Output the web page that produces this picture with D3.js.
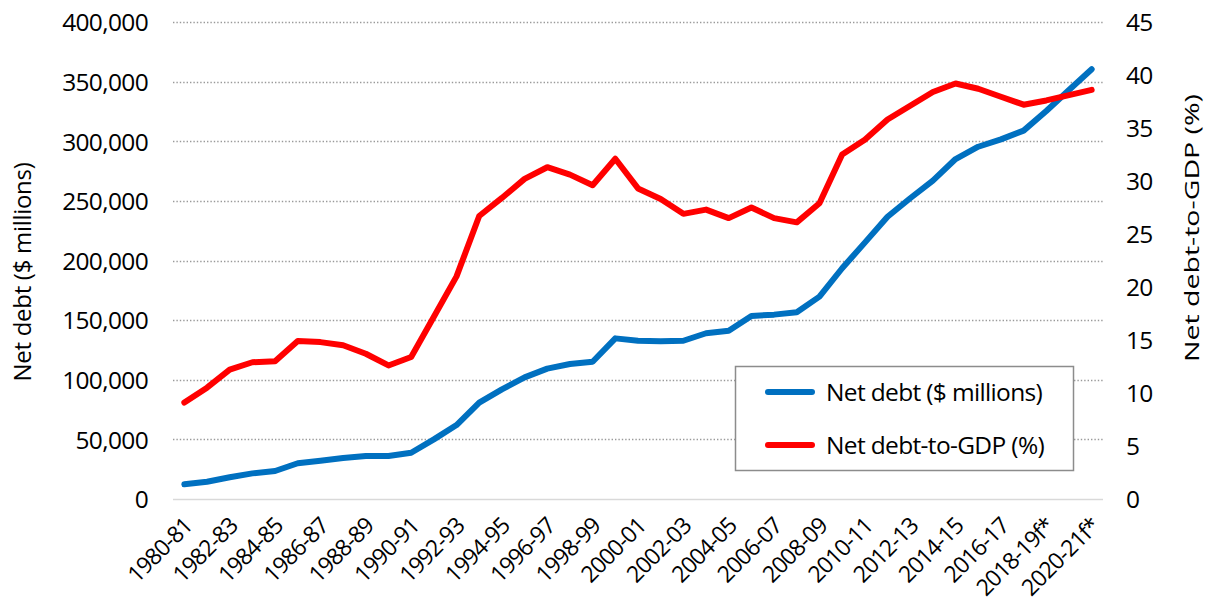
<!DOCTYPE html>
<html>
<head>
<meta charset="utf-8">
<script src="https://cdn.jsdelivr.net/npm/d3@7"></script>
<style>
  html, body { margin: 0; padding: 0; background: #fff; }
  svg text { font-family: "Open Sans", "Noto Sans", sans-serif; fill: #000; }
</style>
</head>
<body>
<svg id="chart" width="1216" height="607"></svg>
<script>
const categories = [
  "1980-81","1981-82","1982-83","1983-84","1984-85","1985-86","1986-87","1987-88","1988-89","1989-90",
  "1990-91","1991-92","1992-93","1993-94","1994-95","1995-96","1996-97","1997-98","1998-99","1999-00",
  "2000-01","2001-02","2002-03","2003-04","2004-05","2005-06","2006-07","2007-08","2008-09","2009-10",
  "2010-11","2011-12","2012-13","2013-14","2014-15","2015-16","2016-17","2017-18","2018-19f*","2019-20f*",
  "2020-21f*"
];
const netDebt = [
  12300, 14500, 18200, 21500, 23500, 30000, 32100, 34400, 36000, 36000,
  38800, 50000, 62000, 80800, 92000, 102000, 109300, 113200, 115100, 134700,
  132700, 132200, 132700, 139000, 141100, 153500, 154600, 156600, 169700, 193500,
  215000, 236700, 252200, 267000, 285100, 295400, 301600, 308900, 325400, 343000,
  360400
];
const debtToGDP = [
  9.1, 10.5, 12.2, 12.9, 13.0, 14.9, 14.8, 14.5, 13.7, 12.6,
  13.4, 17.2, 21.0, 26.7, 28.4, 30.2, 31.3, 30.6, 29.6, 32.1,
  29.3, 28.3, 26.9, 27.3, 26.5, 27.5, 26.5, 26.1, 27.9, 32.5,
  33.9, 35.8, 37.1, 38.4, 39.2, 38.7, 37.95, 37.2, 37.6, 38.1,
  38.6
];
const leftTicks = [0, 50000, 100000, 150000, 200000, 250000, 300000, 350000, 400000];
const rightTicks = [0, 5, 10, 15, 20, 25, 30, 35, 40, 45];
const xLabels = categories.filter((d, i) => i % 2 === 0);
const seriesNames = ["Net debt ($ millions)", "Net debt-to-GDP (%)"];
const seriesColors = ["#0070C0", "#FF0000"];

(function () {
const svg = d3.select("#chart");
const pLeft = 173, pRight = 1103, pTop = 22, pBottom = 499;
const fs = 24.5, ls = "-0.65px";

const x = d3.scaleBand().domain(categories).range([pLeft, pRight]).paddingInner(0).paddingOuter(0);
const cx = d => x(d) + x.bandwidth() / 2;
const yL = d3.scaleLinear().domain([0, 400000]).range([pBottom, pTop]);
const yR = d3.scaleLinear().domain([0, 45]).range([pBottom, pTop]);

// gridlines
const grid = svg.append("g");
grid.selectAll("line.g").data(leftTicks.filter(d => d > 0)).join("line")
  .attr("x1", pLeft).attr("x2", pRight)
  .attr("y1", d => Math.round(yL(d)) + 0.5).attr("y2", d => Math.round(yL(d)) + 0.5)
  .attr("stroke", "#9a9a9a").attr("stroke-width", 1.4).attr("stroke-dasharray", "1.4 2");
grid.append("line")
  .attr("x1", pLeft).attr("x2", pRight)
  .attr("y1", Math.round(yL(0)) + 0.5).attr("y2", Math.round(yL(0)) + 0.5)
  .attr("stroke", "#d9d9d9").attr("stroke-width", 1.5);

// left axis
const axL = svg.append("g").attr("transform", `translate(${pLeft},0)`)
  .call(d3.axisLeft(yL).tickValues(leftTicks).tickSize(0).tickPadding(25).tickFormat(d3.format(",")));
axL.select(".domain").remove();
axL.selectAll("text").style("font-size", fs + "px").style("letter-spacing", ls).attr("dy", "0.36em");

// right axis
const axR = svg.append("g").attr("transform", `translate(${pRight},0)`)
  .call(d3.axisRight(yR).tickValues(rightTicks).tickSize(0).tickPadding(23));
axR.select(".domain").remove();
axR.selectAll("text").style("font-size", fs + "px").style("letter-spacing", ls).attr("dy", "0.36em");

// x axis labels
const axX = svg.append("g").attr("transform", `translate(0,${pBottom})`)
  .call(d3.axisBottom(x).tickValues(xLabels).tickSize(0).tickPadding(0));
axX.select(".domain").remove();
axX.selectAll("text")
  .style("font-size", "23px").style("letter-spacing", "-0.9px")
  .attr("text-anchor", "end")
  .attr("transform", "translate(-2,17) rotate(-45)")
  .attr("dx", 0).attr("dy", "0.7em").attr("y", 0);

// axis titles
svg.append("text")
  .attr("transform", `translate(31,272) rotate(-90)`)
  .attr("text-anchor", "middle").style("font-size", "24px").style("letter-spacing", "-0.3px")
  .text("Net debt ($ millions)");
svg.append("text")
  .attr("transform", `translate(1199,228) rotate(-90)`)
  .attr("text-anchor", "middle").style("font-size", "20.5px")
  .attr("textLength", 268).attr("lengthAdjust", "spacingAndGlyphs")
  .text("Net debt-to-GDP (%)");

// lines
const lineL = d3.line().x((d, i) => cx(categories[i])).y(d => yL(d));
const lineR = d3.line().x((d, i) => cx(categories[i])).y(d => yR(d));
svg.append("path").datum(netDebt).attr("d", lineL)
  .attr("fill", "none").attr("stroke", seriesColors[0]).attr("stroke-width", 6)
  .attr("stroke-linejoin", "round").attr("stroke-linecap", "round");
svg.append("path").datum(debtToGDP).attr("d", lineR)
  .attr("fill", "none").attr("stroke", seriesColors[1]).attr("stroke-width", 6)
  .attr("stroke-linejoin", "round").attr("stroke-linecap", "round");

// legend
const lg = svg.append("g");
lg.append("rect").attr("x", 735.5).attr("y", 366.5).attr("width", 338).attr("height", 104)
  .attr("fill", "#fff").attr("stroke", "#8c8c8c").attr("stroke-width", 1.5);
seriesNames.forEach((name, i) => {
  const yy = 392 + i * 53;
  lg.append("line").attr("x1", 768).attr("x2", 812).attr("y1", yy).attr("y2", yy)
    .attr("stroke", seriesColors[i]).attr("stroke-width", 6).attr("stroke-linecap", "round");
  lg.append("text").attr("x", 826).attr("y", yy).attr("dy", "0.36em")
    .style("font-size", fs + "px").style("letter-spacing", ls).text(name);
});
})();
</script>
</body>
</html>
